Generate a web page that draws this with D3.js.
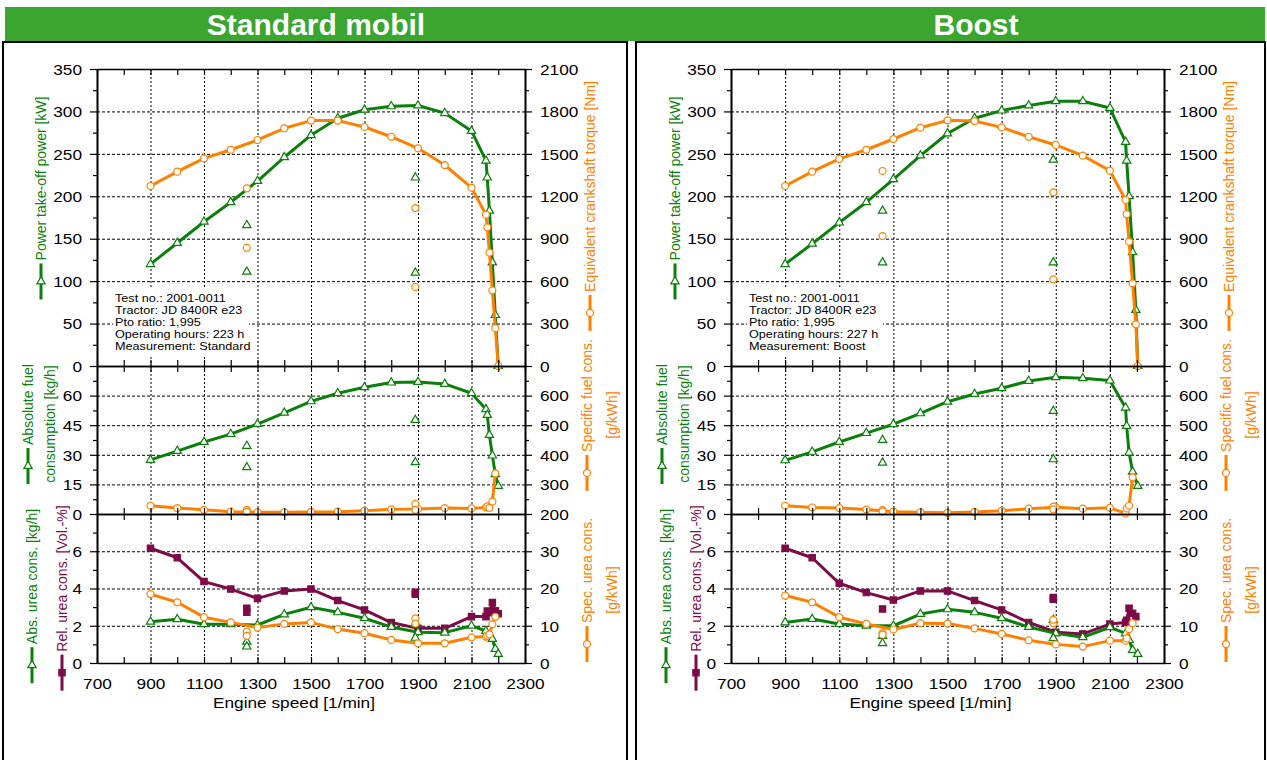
<!DOCTYPE html>
<html>
<head>
<meta charset="utf-8">
<script src="https://cdn.jsdelivr.net/npm/d3@7"></script>
<style>
  body { margin: 0; background: #fff; }
  svg text { font-family: Arial, "Liberation Sans", sans-serif; }
</style>
</head>
<body>
<svg id="chart" width="1267" height="760"></svg>
<script>
// Couleurs / réglages
const SX = 1.15;            // étirement horizontal du texte (image source élargie)
const GREEN = "#0b7f0b";
const ORANGE = "#ff8000";
const PURPLE = "#7d0b47";
const HEAD = "#3aa52f";
const fmt = d3.format("d");

// ---- Standard mobil
const rpmStd = [900, 1000, 1100, 1200, 1300, 1400, 1500, 1600, 1700, 1800, 1900, 2000, 2100, 2154, 2159, 2167, 2178, 2189, 2200];
const powerStd = [120, 145, 170, 193, 218, 246, 272, 292, 302, 306, 307, 298, 277, 242, 222, 183, 122, 60, 0];
const torqueStd = [1273, 1374, 1468, 1529, 1598, 1681, 1735, 1735, 1690, 1621, 1539, 1421, 1261, 1070, 981, 801, 535, 267, 0];
const fuelStd = [27.4, 31.9, 36.5, 40.5, 45.6, 51.3, 57.1, 61.2, 64.2, 66.6, 66.9, 65.9, 61.2, 53.1, 50.2, 40.0, 29.6, 20.2, 14.2];
const sfcStd = [228, 220, 214, 208, 206, 206, 207, 208, 211, 216, 217, 220, 219, 222, 226, 221, 242, 337, null];
const absUreaStd = [2.22, 2.35, 2.08, 2.08, 2.04, 2.61, 2.99, 2.72, 2.40, 1.93, 1.65, 1.63, 2.0, 1.72, null, null, 1.29, 0.75, 0.48];
const relUreaStd = [6.16, 5.65, 4.37, 3.97, 3.47, 3.87, 3.97, 3.35, 2.85, 2.17, 1.86, 1.86, 2.49, 2.49, 2.79, 2.7, 3.25, 2.8, 2.65];
const specUreaStd = [18.5, 16.3, 12.3, 10.9, 9.5, 10.5, 10.9, 9.1, 8.0, 6.2, 5.3, 5.3, 6.9, 7.1, 7.3, 7.7, 10.4, 12.4, null];

// points partiels (non reliés)
const rpmPartStd = [1260, 1260, 1890, 1890];
const powerPartStd = [166, 111, 222, 110];
const torquePartStd = [1256, 836, 1117, 559];
const fuelPartStd = [34.5, 23.7, 47.6, 26.2];
const sfcPartStd = [214, 207, 234, 214];
const absUreaPartStd = [1.14, 0.88, 2.1, 1.35];
const relUreaPartStd = [2.94, 2.72, 3.80, 3.69];
const specUreaPartStd = [8.4, 7.3, 12.0, 10.6];
const infoStd = ["Test no.: 2001-0011", "Tractor: JD 8400R e23", "Pto ratio: 1,995", "Operating hours: 223 h", "Measurement: Standard"];

// ---- Boost
const rpmBst = [900, 1000, 1100, 1200, 1300, 1400, 1500, 1600, 1700, 1800, 1900, 2000, 2100, 2158, 2162, 2171, 2184, 2196, 2203];
const powerBst = [120, 144, 169, 193, 220, 248, 274, 292, 301, 307, 312, 312, 304, 264, 242, 200, 134, 66, 0];
const torqueBst = [1273, 1374, 1464, 1529, 1605, 1685, 1737, 1732, 1687, 1621, 1563, 1487, 1381, 1174, 1073, 879, 585, 295, 0];
const fuelBst = [27.2, 31.5, 36.5, 41.0, 45.5, 51.0, 56.9, 60.8, 63.7, 67.4, 69.3, 68.8, 67.6, 53.9, 44.6, 31.1, 21.4, null, 14.2];
const sfcBst = [228, 222, 220, 215, 208, 206, 204, 207, 211, 218, 223, 218, 221, 202, 219, 228, 324, null, null];
const absUreaBst = [2.18, 2.36, 2.09, 2.0, 2.0, 2.63, 2.88, 2.72, 2.40, 1.93, 1.59, 1.38, 1.92, 1.59, null, 1.23, 0.70, null, 0.48];
const relUreaBst = [6.16, 5.65, 4.28, 3.78, 3.38, 3.87, 3.87, 3.35, 2.85, 2.18, 1.65, 1.56, 2.09, 2.18, 2.3, 2.94, 2.67, 2.49, null];
const specUreaBst = [18.1, 16.3, 12.3, 10.5, 9.0, 10.7, 10.6, 9.3, 7.8, 6.1, 5.0, 4.4, 6.0, 6.0, 6.6, 9.1, 10.7, null, null];

const rpmPartBst = [1260, 1260, 1891, 1891];
const powerPartBst = [183, 122, 243, 122];
const torquePartBst = [1379, 919, 1228, 613];
const fuelPartBst = [37.5, 26.0, 52.2, 27.7];
const sfcPartBst = [213, 209, 225, 216];
const absUreaPartBst = [1.45, 1.06, 2.31, 1.33];
const relUreaPartBst = [2.90, null, 3.51, 3.42];
const specUreaPartBst = [8.0, 7.6, 10.7, 11.6];
const infoBst = ["Test no.: 2001-0011", "Tractor: JD 8400R e23", "Pto ratio: 1,995", "Operating hours: 227 h", "Measurement: Boost"];

// ---- axes des panneaux
const speedTicks = d3.range(700, 2301, 100);
const speedLabels = d3.range(700, 2301, 200);
const speedGrid = d3.range(900, 2101, 200);

const PANELS = [
  { y0: 69, y1: 366,
    left: { domain: [0, 350], major: d3.range(0, 351, 50), minor: d3.range(25, 350, 50) },
    right: { domain: [0, 2100], major: d3.range(0, 2101, 300), minor: d3.range(150, 2100, 300) },
    grid: [50, 100, 150, 200, 250, 300] },
  { y0: 366, y1: 514,
    left: { domain: [0, 75], major: [0, 15, 30, 45, 60], minor: d3.range(7.5, 75, 15) },
    right: { domain: [200, 700], major: [200, 300, 400, 500, 600], minor: d3.range(250, 700, 100) },
    grid: [15, 30, 45, 60] },
  { y0: 514, y1: 663,
    left: { domain: [0, 8], major: [0, 2, 4, 6], minor: [1, 3, 5, 7] },
    right: { domain: [0, 40], major: [0, 10, 20, 30], minor: [5, 15, 25, 35] },
    grid: [2, 4, 6] }
];

const charts = [
  { title: "Standard mobil", titleX: 316, box: [3, 627], pl: 97, pr: 525,
    rpm: rpmStd, power: powerStd, torque: torqueStd, fuel: fuelStd, sfc: sfcStd,
    absUrea: absUreaStd, relUrea: relUreaStd, specUrea: specUreaStd,
    rpmPart: rpmPartStd, powerPart: powerPartStd, torquePart: torquePartStd, fuelPart: fuelPartStd,
    sfcPart: sfcPartStd, absUreaPart: absUreaPartStd, relUreaPart: relUreaPartStd, specUreaPart: specUreaPartStd,
    info: infoStd },
  { title: "Boost", titleX: 976, box: [636, 1265], pl: 731, pr: 1164,
    rpm: rpmBst, power: powerBst, torque: torqueBst, fuel: fuelBst, sfc: sfcBst,
    absUrea: absUreaBst, relUrea: relUreaBst, specUrea: specUreaBst,
    rpmPart: rpmPartBst, powerPart: powerPartBst, torquePart: torquePartBst, fuelPart: fuelPartBst,
    sfcPart: sfcPartBst, absUreaPart: absUreaPartBst, relUreaPart: relUreaPartBst, specUreaPart: specUreaPartBst,
    info: infoBst }
];

const svg = d3.select("#chart");

// bandeau vert
svg.append("rect").attr("x", 5).attr("y", 7).attr("width", 1260).attr("height", 34).attr("fill", HEAD);

function symbolPath(shape) {
  if (shape === "tri") return d3.symbol(d3.symbolTriangle, 30)();
  if (shape === "sq") return d3.symbol(d3.symbolSquare, 40)();
  return d3.symbol(d3.symbolCircle, 38)();
}

function marker(g, cx, cy, color, shape) {
  g.append("path")
    .attr("transform", `translate(${cx},${cy})`)
    .attr("d", symbolPath(shape))
    .attr("fill", shape === "sq" ? color : "#fff")
    .attr("stroke", color)
    .attr("stroke-width", 1.2);
}

function hText(g, x, y, str, size, anchor) {
  return g.append("text")
    .attr("transform", `translate(${x},${y}) scale(${SX},1)`)
    .attr("text-anchor", anchor || "start")
    .attr("font-size", size)
    .attr("fill", "#000")
    .text(str);
}

// titre vertical avec symbole de légende
function vTitle(g, x, cy, lines, color, shape, spacing) {
  const grp = g.append("g").attr("transform", `translate(${x},${cy}) rotate(-90)`);
  lines.forEach((txt, i) => {
    const ly = i * (spacing || 0);
    const t = grp.append("text")
      .attr("y", ly).attr("dy", "0.35em")
      .attr("font-size", 14).attr("fill", color)
      .text(txt);
    const w = t.node().getComputedTextLength();
    if (i === 0 && shape) {
      const total = 36 + 3 + w;
      const start = -total / 2;
      grp.append("line")
        .attr("x1", start).attr("x2", start + 36).attr("y1", ly).attr("y2", ly)
        .attr("stroke", color).attr("stroke-width", 3);
      t.attr("x", start + 39);
      marker(g, x + ly, cy - (start + 18), color, shape);
    } else {
      t.attr("x", 0).attr("text-anchor", "middle");
    }
  });
}

function drawSeries(g, x, y, xs, ys, color, shape, withLine) {
  const pts = xs.map((r, i) => [r, ys[i]]).filter(d => d[1] != null);
  if (withLine) {
    g.append("path").datum(pts)
      .attr("d", d3.line().x(d => x(d[0])).y(d => y(d[1])))
      .attr("fill", "none")
      .attr("stroke", color)
      .attr("stroke-width", 3)
      .attr("stroke-linejoin", "round");
  }
  pts.forEach(d => marker(g, x(d[0]), y(d[1]), color, shape));
}

function styleAxis(sel, side) {
  sel.select(".domain").attr("stroke", "#000").attr("stroke-width", 1.6);
  sel.selectAll(".tick line").attr("stroke", "#000").attr("stroke-width", 1.2);
  const t = sel.selectAll("text")
    .attr("font-size", 15)
    .attr("fill", "#000")
    .attr("transform", `scale(${SX},1)`);
  if (side === "left") t.attr("x", -15 / SX).attr("dy", "0.35em");
  if (side === "right") t.attr("x", 15 / SX).attr("dy", "0.35em");
}

function drawChart(c) {
  const g = svg.append("g");

  g.append("rect")
    .attr("x", c.box[0]).attr("y", 42)
    .attr("width", c.box[1] - c.box[0]).attr("height", 730)
    .attr("fill", "none").attr("stroke", "#000").attr("stroke-width", 2);

  g.append("text")
    .attr("x", c.titleX).attr("y", 35)
    .attr("text-anchor", "middle")
    .attr("font-size", 30).attr("font-weight", "bold")
    .attr("fill", "#fff")
    .text(c.title);

  const x = d3.scaleLinear().domain([700, 2300]).range([c.pl, c.pr]);
  const panels = PANELS.map(p => Object.assign({}, p, {
    yl: d3.scaleLinear().domain(p.left.domain).range([p.y1, p.y0]),
    yr: d3.scaleLinear().domain(p.right.domain).range([p.y1, p.y0])
  }));

  // grille
  panels.forEach(p => {
    g.append("g").selectAll("line").data(p.grid).join("line")
      .attr("x1", c.pl).attr("x2", c.pr)
      .attr("y1", d => p.yl(d) + 0.5).attr("y2", d => p.yl(d) + 0.5)
      .attr("stroke", "#000").attr("stroke-width", 1).attr("stroke-dasharray", "3,2");
    g.append("g").selectAll("line").data(speedGrid).join("line")
      .attr("x1", d => x(d) + 0.5).attr("x2", d => x(d) + 0.5)
      .attr("y1", p.y0).attr("y2", p.y1)
      .attr("stroke", "#000").attr("stroke-width", 1).attr("stroke-dasharray", "2,2");
  });

  // encadré d'info
  g.append("rect").attr("x", c.pl + 16).attr("y", 287).attr("width", 136).attr("height", 69).attr("fill", "#fff");
  c.info.forEach((s, i) => hText(g, c.pl + 18, 302 + i * 12, s, 11));

  const [pTop, pMid, pBot] = panels;

  // panneau haut : puissance / couple
  drawSeries(g, x, pTop.yl, c.rpm, c.power, GREEN, "tri", true);
  drawSeries(g, x, pTop.yl, c.rpmPart, c.powerPart, GREEN, "tri", false);
  drawSeries(g, x, pTop.yr, c.rpm, c.torque, ORANGE, "circ", true);
  drawSeries(g, x, pTop.yr, c.rpmPart, c.torquePart, ORANGE, "circ", false);

  // panneau milieu : carburant
  drawSeries(g, x, pMid.yl, c.rpm, c.fuel, GREEN, "tri", true);
  drawSeries(g, x, pMid.yl, c.rpmPart, c.fuelPart, GREEN, "tri", false);
  drawSeries(g, x, pMid.yr, c.rpm, c.sfc, ORANGE, "circ", true);
  drawSeries(g, x, pMid.yr, c.rpmPart, c.sfcPart, ORANGE, "circ", false);

  // panneau bas : urée
  drawSeries(g, x, pBot.yl, c.rpm, c.relUrea, PURPLE, "sq", true);
  drawSeries(g, x, pBot.yl, c.rpmPart, c.relUreaPart, PURPLE, "sq", false);
  drawSeries(g, x, pBot.yl, c.rpm, c.absUrea, GREEN, "tri", true);
  drawSeries(g, x, pBot.yl, c.rpmPart, c.absUreaPart, GREEN, "tri", false);
  drawSeries(g, x, pBot.yr, c.rpm, c.specUrea, ORANGE, "circ", true);
  drawSeries(g, x, pBot.yr, c.rpmPart, c.specUreaPart, ORANGE, "circ", false);

  // axes
  panels.forEach(p => {
    const la = g.append("g").attr("transform", `translate(${c.pl},0)`)
      .call(d3.axisLeft(p.yl).tickValues(p.left.major).tickSizeInner(7).tickSizeOuter(0).tickFormat(fmt));
    styleAxis(la, "left");
    const lm = g.append("g").attr("transform", `translate(${c.pl},0)`)
      .call(d3.axisLeft(p.yl).tickValues(p.left.minor).tickSizeInner(4).tickSizeOuter(0).tickFormat(""));
    styleAxis(lm);

    const ra = g.append("g").attr("transform", `translate(${c.pr},0)`)
      .call(d3.axisRight(p.yr).tickValues(p.right.major).tickSizeInner(7).tickSizeOuter(0).tickFormat(fmt));
    styleAxis(ra, "right");
    const rm = g.append("g").attr("transform", `translate(${c.pr},0)`)
      .call(d3.axisRight(p.yr).tickValues(p.right.minor).tickSizeInner(4).tickSizeOuter(0).tickFormat(""));
    styleAxis(rm);

    const bx = g.append("g").attr("transform", `translate(0,${p.y1})`)
      .call(d3.axisBottom(x).tickValues(speedTicks).tickSizeInner(-6).tickSizeOuter(0).tickFormat(""));
    styleAxis(bx);
    const tx = g.append("g").attr("transform", `translate(0,${p.y0})`)
      .call(d3.axisTop(x).tickValues(speedTicks).tickSizeInner(-6).tickSizeOuter(0).tickFormat(""));
    styleAxis(tx);
  });

  const xl = g.append("g").attr("transform", `translate(0,${pBot.y1})`)
    .call(d3.axisBottom(x).tickValues(speedLabels).tickSize(0).tickPadding(15).tickFormat(fmt));
  xl.select(".domain").remove();
  xl.selectAll("text").attr("font-size", 15).attr("fill", "#000").attr("transform", `scale(${SX},1)`);

  hText(g, (c.pl + c.pr) / 2 - 17, 708, "Engine speed [1/min]", 15, "middle");

  // titres d'axes
  vTitle(g, c.pl - 56, 198, ["Power take-off power [kW]"], GREEN, "tri");
  vTitle(g, c.pl - 69, 424, ["Absolute fuel", "consumption [kg/h]"], GREEN, "tri", 22);
  vTitle(g, c.pl - 65, 596, ["Abs. urea cons. [kg/h]"], GREEN, "tri");
  vTitle(g, c.pl - 35, 598, ["Rel. urea cons. [Vol.-%]"], PURPLE, "sq");
  vTitle(g, c.pr + 65, 206, ["Equivalent crankshaft torque [Nm]"], ORANGE, "circ");
  vTitle(g, c.pr + 62, 415, ["Specific fuel cons.", "[g/kWh]"], ORANGE, "circ", 25);
  vTitle(g, c.pr + 62, 590, ["Spec. urea cons.", "[g/kWh]"], ORANGE, "circ", 25);
}

charts.forEach(drawChart);
</script>
</body>
</html>
